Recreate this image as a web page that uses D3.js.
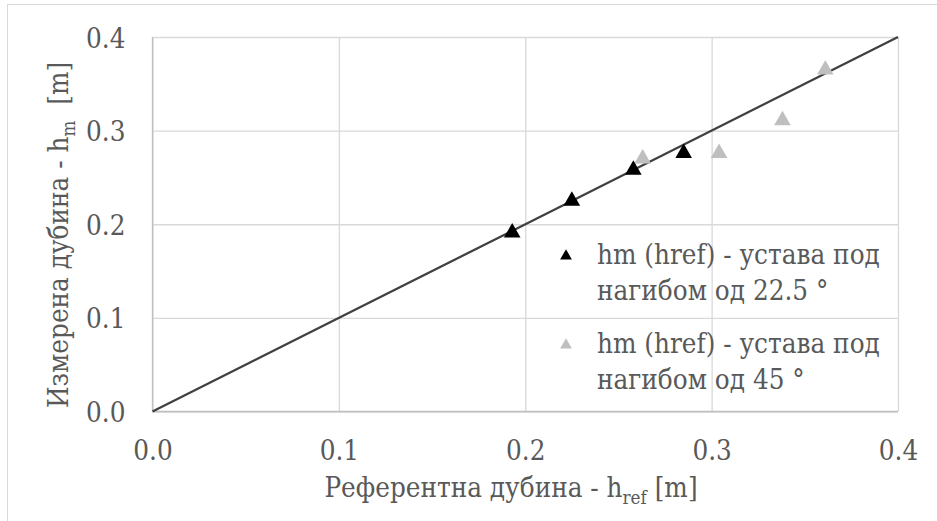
<!DOCTYPE html>
<html>
<head>
<meta charset="utf-8">
<script src="https://cdn.jsdelivr.net/npm/d3@7"></script>
<style>
  body { margin: 0; background: #fff; }
</style>
</head>
<body>
<svg id="chart" width="937" height="521"></svg>
<script>
// serija 1 - nagib 22.5
const hrefA = [0.193, 0.225, 0.258, 0.285];
const hmA = [0.191, 0.225, 0.258, 0.276];
// serija 2 - nagib 45
const hrefB = [0.263, 0.304, 0.338, 0.361];
const hmB = [0.270, 0.276, 0.311, 0.365];
const ticks = [0, 0.1, 0.2, 0.3, 0.4];
const legendLines = [
  ['hm (href) - устава под', 'нагибом од 22.5 °'],
  ['hm (href) - устава под', 'нагибом од 45 °'],
];

// jedini serif font koji se stvarno ucitava
const serif = 'DejaVu Serif';
const svg = d3.select('#chart');
const margin = { top: 37, right: 39, bottom: 109.5, left: 152.5 };
const width = +svg.attr('width') - margin.left - margin.right;
const height = +svg.attr('height') - margin.top - margin.bottom;
const fontSize = 28;
const textColor = '#595959';

// okvir cele slike
svg.append('rect')
  .attr('x', 7.5).attr('y', 4.5)
  .attr('width', 1000).attr('height', 1000)
  .attr('fill', 'none')
  .attr('stroke', '#d9d9d9');

const g = svg.append('g').attr('transform', `translate(${margin.left},${margin.top})`);

const x = d3.scaleLinear().domain([0, 0.4]).range([0, width]);
const y = d3.scaleLinear().domain([0, 0.4]).range([height, 0]);

// mreza
g.append('g')
  .call(d3.axisLeft(y).tickValues(ticks).tickSize(-width).tickFormat(''))
  .call(s => s.select('.domain').remove())
  .selectAll('line').attr('stroke', '#d9d9d9').attr('stroke-width', 1.3);

g.append('g')
  .attr('transform', `translate(0,${height})`)
  .call(d3.axisBottom(x).tickValues(ticks).tickSize(-height).tickFormat(''))
  .call(s => s.select('.domain').remove())
  .selectAll('line').attr('stroke', '#d9d9d9').attr('stroke-width', 1.3);

// ose
g.append('line')
  .attr('x1', 0).attr('x2', 0).attr('y1', 0).attr('y2', height)
  .attr('stroke', '#bfbfbf').attr('stroke-width', 1.3);
g.append('line')
  .attr('x1', 0).attr('x2', width).attr('y1', height).attr('y2', height)
  .attr('stroke', '#bfbfbf').attr('stroke-width', 1.3);

// linija 1:1
g.append('path')
  .datum([0, 0.4])
  .attr('fill', 'none')
  .attr('stroke', '#404040')
  .attr('stroke-width', 2.25)
  .attr('d', d3.line().x(d => x(d)).y(d => y(d)));

const tri = d3.symbol().type(d3.symbolTriangle);

const seriesA = hrefA.map((v, i) => ({ href: v, hm: hmA[i] }));
const seriesB = hrefB.map((v, i) => ({ href: v, hm: hmB[i] }));

g.selectAll('.ptB')
  .data(seriesB)
  .enter().append('path')
  .attr('class', 'ptB')
  .attr('transform', d => `translate(${x(d.href)},${y(d.hm)})`)
  .attr('d', tri.size(120))
  .attr('fill', '#bfbfbf');

g.selectAll('.ptA')
  .data(seriesA)
  .enter().append('path')
  .attr('class', 'ptA')
  .attr('transform', d => `translate(${x(d.href)},${y(d.hm)})`)
  .attr('d', tri.size(120))
  .attr('fill', '#000');

// legenda
const legend = svg.append('g');
const legendColors = ['#000', '#bfbfbf'];
const legendTop = [264, 353];
const legendX = 597;
const legendTexts = [];
legendLines.forEach((lines, i) => {
  legend.append('path')
    .attr('transform', `translate(566,${legendTop[i] - 8})`)
    .attr('d', tri.size(60))
    .attr('fill', legendColors[i]);
  const t = legend.append('text')
    .attr('x', legendX)
    .attr('y', legendTop[i])
    .attr('fill', textColor)
    .style('font-family', serif)
    .style('font-size', `${fontSize}px`);
  lines.forEach((line, j) => {
    t.append('tspan').attr('x', legendX).attr('dy', j === 0 ? 0 : 36).text(line);
  });
  legendTexts.push(t);
});

// DejaVu Serif je siri od Times-a, pa se tekst suzava po sirini
const firstLine = legendTexts[0].select('tspan').node();
const k = 283 / firstLine.getComputedTextLength();

legendTexts.forEach((t, i) => {
  t.attr('transform', `translate(${legendX},${legendTop[i]}) scale(${k},1) translate(${-legendX},${-legendTop[i]})`);
});

const xAxis = g.append('g')
  .attr('transform', `translate(0,${height})`)
  .call(d3.axisBottom(x).tickValues(ticks).tickSize(0).tickFormat(d3.format('.1f')));
xAxis.select('.domain').remove();
xAxis.attr('font-family', null).attr('font-size', null);
xAxis.selectAll('text')
  .attr('y', 48.5).attr('dy', null)
  .attr('transform', `scale(${k},1)`)
  .style('font-family', serif)
  .style('font-size', `${fontSize}px`)
  .attr('fill', textColor);

const yAxis = g.append('g')
  .call(d3.axisLeft(y).tickValues(ticks).tickSize(0).tickFormat(d3.format('.1f')));
yAxis.select('.domain').remove();
yAxis.attr('font-family', null).attr('font-size', null);
yAxis.selectAll('text')
  .attr('x', -27).attr('dy', '0.36em')
  .attr('transform', `translate(-27,0) scale(${k},1) translate(27,0)`)
  .style('font-family', serif)
  .style('font-size', `${fontSize}px`)
  .attr('fill', textColor);

// naslovi osa
const xt = svg.append('text')
  .attr('x', 0)
  .attr('y', 0)
  .attr('transform', `translate(511,497) scale(${k},1)`)
  .attr('text-anchor', 'middle')
  .attr('fill', textColor)
  .style('font-family', serif)
  .style('font-size', `${fontSize}px`);
xt.append('tspan').text('Референтна дубина - h');
xt.append('tspan').attr('dy', 7).style('font-size', '19px').text('ref');
xt.append('tspan').attr('dy', -7).text(' [m]');

const yt = svg.append('text')
  .attr('transform', `translate(68,235) rotate(-90) scale(${k},1)`)
  .attr('text-anchor', 'middle')
  .attr('fill', textColor)
  .style('font-family', serif)
  .style('font-size', `${fontSize}px`)
  .style('white-space', 'pre');
yt.append('tspan').text('Измерена дубина - h');
yt.append('tspan').attr('dy', 7).style('font-size', '19px').text('m');
yt.append('tspan').attr('dy', -7).text('  [m]');
</script>
</body>
</html>
